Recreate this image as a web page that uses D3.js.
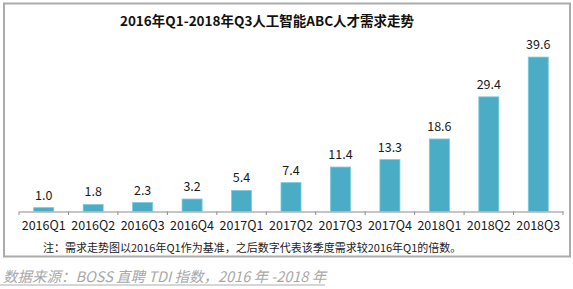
<!DOCTYPE html>
<html>
<head>
<meta charset="utf-8">
<script src="https://cdn.jsdelivr.net/npm/d3@7"></script>
<style>
  body { margin: 0; background: #fff; }
  text { font-family: "Noto Sans CJK SC", "Noto Sans", sans-serif; }
</style>
</head>
<body>
<div id="chart"></div>
<script>
// data
const quarters = ["2016Q1", "2016Q2", "2016Q3", "2016Q4", "2017Q1", "2017Q2",
                  "2017Q3", "2017Q4", "2018Q1", "2018Q2", "2018Q3"];
const demandIndex = [1.0, 1.8, 2.3, 3.2, 5.4, 7.4, 11.4, 13.3, 18.6, 29.4, 39.6];

const titleText = "2016年Q1-2018年Q3人工智能ABC人才需求走势";
const noteText = "注：需求走势图以2016年Q1作为基准，之后数字代表该季度需求较2016年Q1的倍数。";
const sourceText = "数据来源：BOSS 直聘 TDI 指数，2016 年 -2018 年";

const width = 573, height = 289;

const svg = d3.select("#chart")
    .append("svg")
    .attr("width", width)
    .attr("height", height);

// frame
svg.append("rect")
    .attr("x", 4)
    .attr("y", 3.5)
    .attr("width", 566)
    .attr("height", 253)
    .attr("fill", "#fff")
    .attr("stroke", "#ababab")
    .attr("stroke-width", 2);

let x = d3.scaleBand()
    .domain(quarters)
    .range([19, 563])
    .paddingInner(0.595)
    .paddingOuter(0.2975);

let y = d3.scaleLinear()
    .domain([0, 40])
    .range([211.5, 55.5]);

// axis
let xAxis = d3.axisBottom(x).tickSize(0).tickFormat("");
let axisG = svg.append("g")
    .attr("transform", "translate(0,211.5)")
    .call(xAxis);
axisG.select(".domain").attr("stroke", "#8c8c8c");

// tick marks between categories
let step = x.step();
let tickPos = d3.range(quarters.length + 1).map(i => 19 + i * step);
svg.selectAll("line.tick")
    .data(tickPos)
    .enter()
    .append("line")
    .attr("class", "tick")
    .attr("x1", d => d)
    .attr("x2", d => d)
    .attr("y1", 211.5)
    .attr("y2", 215)
    .attr("stroke", "#8c8c8c");

// bars
svg.selectAll("rect.bar")
    .data(demandIndex)
    .enter()
    .append("rect")
    .attr("class", "bar")
    .attr("x", (d, i) => x(quarters[i]))
    .attr("y", d => y(d))
    .attr("width", x.bandwidth())
    .attr("height", d => y(0) - y(d))
    .attr("fill", "#4bacc6")
    .attr("stroke", "#7ccbdd")
    .attr("stroke-width", 0.8);

// value labels
svg.selectAll("text.value")
    .data(demandIndex)
    .enter()
    .append("text")
    .attr("class", "value")
    .attr("x", (d, i) => x(quarters[i]) + x.bandwidth() / 2)
    .attr("y", d => y(d) - 8)
    .attr("text-anchor", "middle")
    .style("font-size", "12.5px")
    .style("fill", "#1a1a1a")
    .text(d => d.toFixed(1));

// category labels
svg.selectAll("text.cat")
    .data(quarters)
    .enter()
    .append("text")
    .attr("class", "cat")
    .attr("x", d => x(d) + x.bandwidth() / 2)
    .attr("y", 229.5)
    .attr("text-anchor", "middle")
    .style("font-size", "12.5px")
    .style("fill", "#1a1a1a")
    .text(d => d);

// title
svg.append("text")
    .attr("x", 267)
    .attr("y", 26)
    .attr("text-anchor", "middle")
    .style("font-size", "13.5px")
    .style("font-weight", "bold")
    .style("fill", "#111")
    .text(titleText);

// note
svg.append("text")
    .attr("x", 43)
    .attr("y", 252)
    .style("font-size", "11px")
    .style("fill", "#1a1a1a")
    .text(noteText);

// source
svg.append("text")
    .attr("x", 3)
    .attr("y", 282)
    .style("font-size", "14.5px")
    .style("font-style", "italic")
    .style("fill", "#a8a8a8")
    .text(sourceText);

svg.append("line")
    .attr("x1", 0)
    .attr("x2", 325)
    .attr("y1", 285)
    .attr("y2", 285)
    .attr("stroke", "#c8c8c8")
    .attr("stroke-width", 1.5);
</script>
</body>
</html>
